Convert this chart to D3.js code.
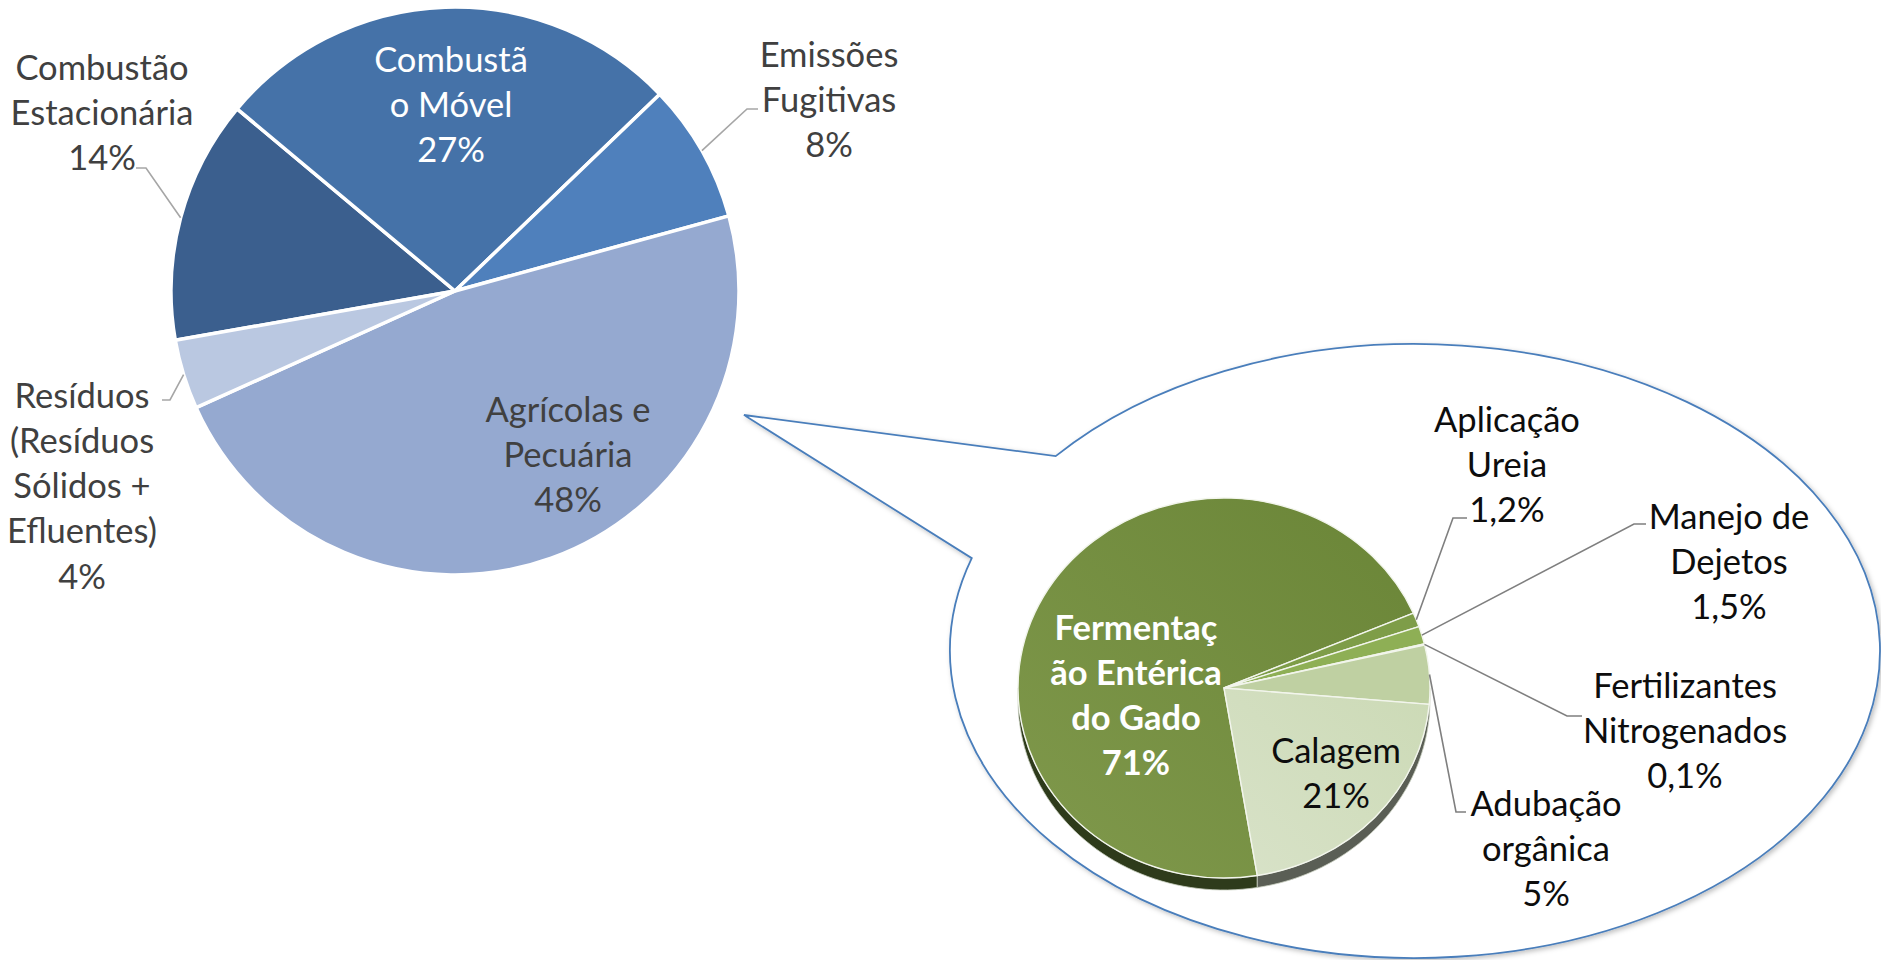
<!DOCTYPE html>
<html>
<head>
<meta charset="utf-8">
<script src="https://cdn.jsdelivr.net/npm/d3@7"></script>
<style>
  html, body { margin: 0; padding: 0; background: #fff; }
  svg { display: block; }
  text { font-family: Lato, "Open Sans", sans-serif; }
</style>
</head>
<body>
<div id="box"></div>
<script>
// Emissões por setor (%)
var setores = ["Combustão Estacionária", "Combustão Móvel", "Emissões Fugitivas",
               "Agrícolas e Pecuária", "Resíduos (Resíduos Sólidos + Efluentes)"];
var setorValores = [14, 27, 8, 48, 4];

// Detalhe do setor agropecuário (%)
var agroCategorias = ["Fermentação Entérica do Gado", "Aplicação Ureia", "Manejo de Dejetos",
                      "Fertilizantes Nitrogenados", "Adubação orgânica", "Calagem"];
var agroValores = [71, 1.2, 1.5, 0.1, 5, 21];

// cores
var setorCores = ["#3B5F8E", "#4572A8", "#4F80BC", "#95A9D0", "#BAC8E1"];
var agroCores = ["url(#gradFerm)", "#7E9D48", "#8EAF55", "#A9C27F", "#BFD0A2", "url(#gradCal)"];
var agroCoresLado = ["#2E3B1B", "#3E4F24", "#45582A", "#55663C", "#5F6656", "#5A5E55"];

var W = 1881, H = 960;
var svg = d3.select("#box").append("svg")
    .attr("width", W)
    .attr("height", H);

var defs = svg.append("defs");
var g1 = defs.append("linearGradient").attr("id", "gradFerm")
    .attr("x1", 1).attr("y1", 0).attr("x2", 0).attr("y2", 1);
g1.append("stop").attr("offset", 0).attr("stop-color", "#6A8537");
g1.append("stop").attr("offset", 1).attr("stop-color", "#80994C");
var g2 = defs.append("linearGradient").attr("id", "gradCal")
    .attr("x1", 1).attr("y1", 0).attr("x2", 0).attr("y2", 1);
g2.append("stop").attr("offset", 0).attr("stop-color", "#CCDAB6");
g2.append("stop").attr("offset", 1).attr("stop-color", "#D8E2C8");
var sombra = defs.append("filter").attr("id", "sombra")
    .attr("x", "-10%").attr("y", "-10%").attr("width", "120%").attr("height", "120%");
sombra.append("feDropShadow").attr("dx", 2).attr("dy", 2)
    .attr("stdDeviation", 2.5).attr("flood-color", "#000").attr("flood-opacity", 0.25);

var fontSize = 34.5, lineH = 45.3;

function fmtPct(v) {
    return (Number.isInteger(v) ? v : v.toFixed(1).replace(".", ",")) + "%";
}

function drawLabel(layer, lay, pct) {
    var lines = lay.lines.concat([pct]);
    var t = layer.append("text")
        .attr("text-anchor", "middle")
        .attr("font-size", fontSize)
        .attr("font-weight", lay.bold ? "bold" : "normal")
        .attr("fill", lay.color);
    lines.forEach(function(s, i) {
        t.append("tspan")
            .attr("x", lay.x)
            .attr("y", lay.y + i * lineH)
            .attr("dominant-baseline", "central")
            .text(s);
    });
}

// ---------- balão (callout) ----------
var bal = { cx: 1415, cy: 651, rx: 465, ry: 307, tip: [744, 415], tA: 219.4, tB: 197.6 };
function balPt(t) {
    var a = t * Math.PI / 180;
    return [bal.cx + bal.rx * Math.cos(a), bal.cy + bal.ry * Math.sin(a)];
}
var pA = balPt(bal.tA), pB = balPt(bal.tB);
svg.append("path")
    .attr("d", "M" + bal.tip + "L" + pA + "A" + bal.rx + "," + bal.ry + " 0 1 1 " + pB + "Z")
    .attr("fill", "#fff")
    .attr("stroke", "#4A7EBB")
    .attr("stroke-width", 1.8)
    .attr("filter", "url(#sombra)");

// ---------- pizza principal ----------
var main = { cx: 455, cy: 291, r: 284, start: 260 };
var pieMain = d3.pie().sort(null)
    .startAngle(main.start * Math.PI / 180)
    .endAngle(main.start * Math.PI / 180 + 2 * Math.PI);
var arcMain = d3.arc().innerRadius(0).outerRadius(main.r);
var mainData = pieMain(setorValores);

var gMain = svg.append("g").attr("transform", "translate(" + main.cx + "," + main.cy + ")");
gMain.selectAll("path.slice")
    .data(mainData)
    .enter()
    .append("path")
    .attr("class", "slice")
    .attr("d", arcMain)
    .attr("fill", function(d, i) { return setorCores[i]; })
    .attr("stroke", "#fff")
    .attr("stroke-width", 3.5)
    .attr("stroke-linejoin", "round");

var mainLayout = [
    { lines: ["Combustão", "Estacionária"], x: 102, y: 66, color: "#404040", leader: [[136, 168], [146, 168]] },
    { lines: ["Combustã", "o Móvel"], x: 451, y: 58, color: "#fff" },
    { lines: ["Emissões", "Fugitivas"], x: 829, y: 53, color: "#404040", leader: [[758, 109], [747, 109]] },
    { lines: ["Agrícolas e", "Pecuária"], x: 568, y: 408, color: "#404040" },
    { lines: ["Resíduos", "(Resíduos", "Sólidos +", "Efluentes)"], x: 82, y: 394, color: "#404040", leader: [[162, 400], [170, 400]] }
];

var leaderLine = d3.line();
mainData.forEach(function(d, i) {
    var lay = mainLayout[i];
    if (lay.leader) {
        var m = (d.startAngle + d.endAngle) / 2;
        var end = [main.cx + main.r * Math.sin(m), main.cy - main.r * Math.cos(m)];
        svg.append("path")
            .attr("d", leaderLine(lay.leader.concat([end])))
            .attr("fill", "none")
            .attr("stroke", "#A6A6A6")
            .attr("stroke-width", 1.6);
    }
    drawLabel(svg, lay, fmtPct(d.data));
});

// ---------- pizza do detalhe (3D leve) ----------
var inner = { cx: 1224, cy: 688, rx: 206, ry: 190, depth: 12, start: 170.7 };
var pieAgro = d3.pie().sort(null)
    .startAngle(inner.start * Math.PI / 180)
    .endAngle(inner.start * Math.PI / 180 + 2 * Math.PI);
var agroData = pieAgro(agroValores);

function ellPt(a, k, dy) {
    return [inner.cx + k * inner.rx * Math.sin(a), inner.cy - k * inner.ry * Math.cos(a) + (dy || 0)];
}

// lateral
var gSide = svg.append("g");
agroData.forEach(function(d, i) {
    [[Math.PI / 2, 3 * Math.PI / 2], [5 * Math.PI / 2, 7 * Math.PI / 2]].forEach(function(w) {
        var lo = Math.max(d.startAngle, w[0]), hi = Math.min(d.endAngle, w[1]);
        if (hi <= lo) return;
        var top = [], bot = [];
        for (var k = 0; k <= 48; k++) {
            var a = lo + (hi - lo) * k / 48;
            top.push(ellPt(a, 1, 0));
            bot.push(ellPt(a, 1, inner.depth));
        }
        gSide.append("path")
            .attr("d", leaderLine(top.concat(bot.reverse())) + "Z")
            .attr("fill", agroCoresLado[i])
            .attr("stroke", "#C9CFC0")
            .attr("stroke-width", 0.8);
    });
});

// topo
var arcAgro = d3.arc().innerRadius(0).outerRadius(inner.rx);
var gTop = svg.append("g")
    .attr("transform", "translate(" + inner.cx + "," + inner.cy + ") scale(1," + (inner.ry / inner.rx) + ")");
gTop.selectAll("path.slice")
    .data(agroData)
    .enter()
    .append("path")
    .attr("class", "slice")
    .attr("d", arcAgro)
    .attr("fill", function(d, i) { return agroCores[i]; })
    .attr("stroke", "#F2F5EC")
    .attr("stroke-width", 1.4)
    .attr("vector-effect", "non-scaling-stroke");

var agroLayout = [
    { lines: ["Fermentaç", "ão Entérica", "do Gado"], x: 1136, y: 626, color: "#fff", bold: true },
    { lines: ["Aplicação", "Ureia"], x: 1507, y: 418, color: "#0D0D0D", leader: [[1467, 518], [1453, 518]] },
    { lines: ["Manejo de", "Dejetos"], x: 1729, y: 515, color: "#0D0D0D", leader: [[1646, 524], [1634, 524]] },
    { lines: ["Fertilizantes", "Nitrogenados"], x: 1685, y: 684, color: "#0D0D0D", leader: [[1582, 716], [1567, 716]] },
    { lines: ["Adubação", "orgânica"], x: 1546, y: 802, color: "#0D0D0D", leader: [[1466, 812], [1456, 812]] },
    { lines: ["Calagem"], x: 1336, y: 749, color: "#0D0D0D" }
];

agroData.forEach(function(d, i) {
    var lay = agroLayout[i];
    if (lay.leader) {
        var m = (d.startAngle + d.endAngle) / 2;
        svg.append("path")
            .attr("d", leaderLine(lay.leader.concat([ellPt(m, 1.0)])))
            .attr("fill", "none")
            .attr("stroke", "#7F7F7F")
            .attr("stroke-width", 1.6);
    }
    drawLabel(svg, lay, fmtPct(d.data));
});
</script>
</body>
</html>
